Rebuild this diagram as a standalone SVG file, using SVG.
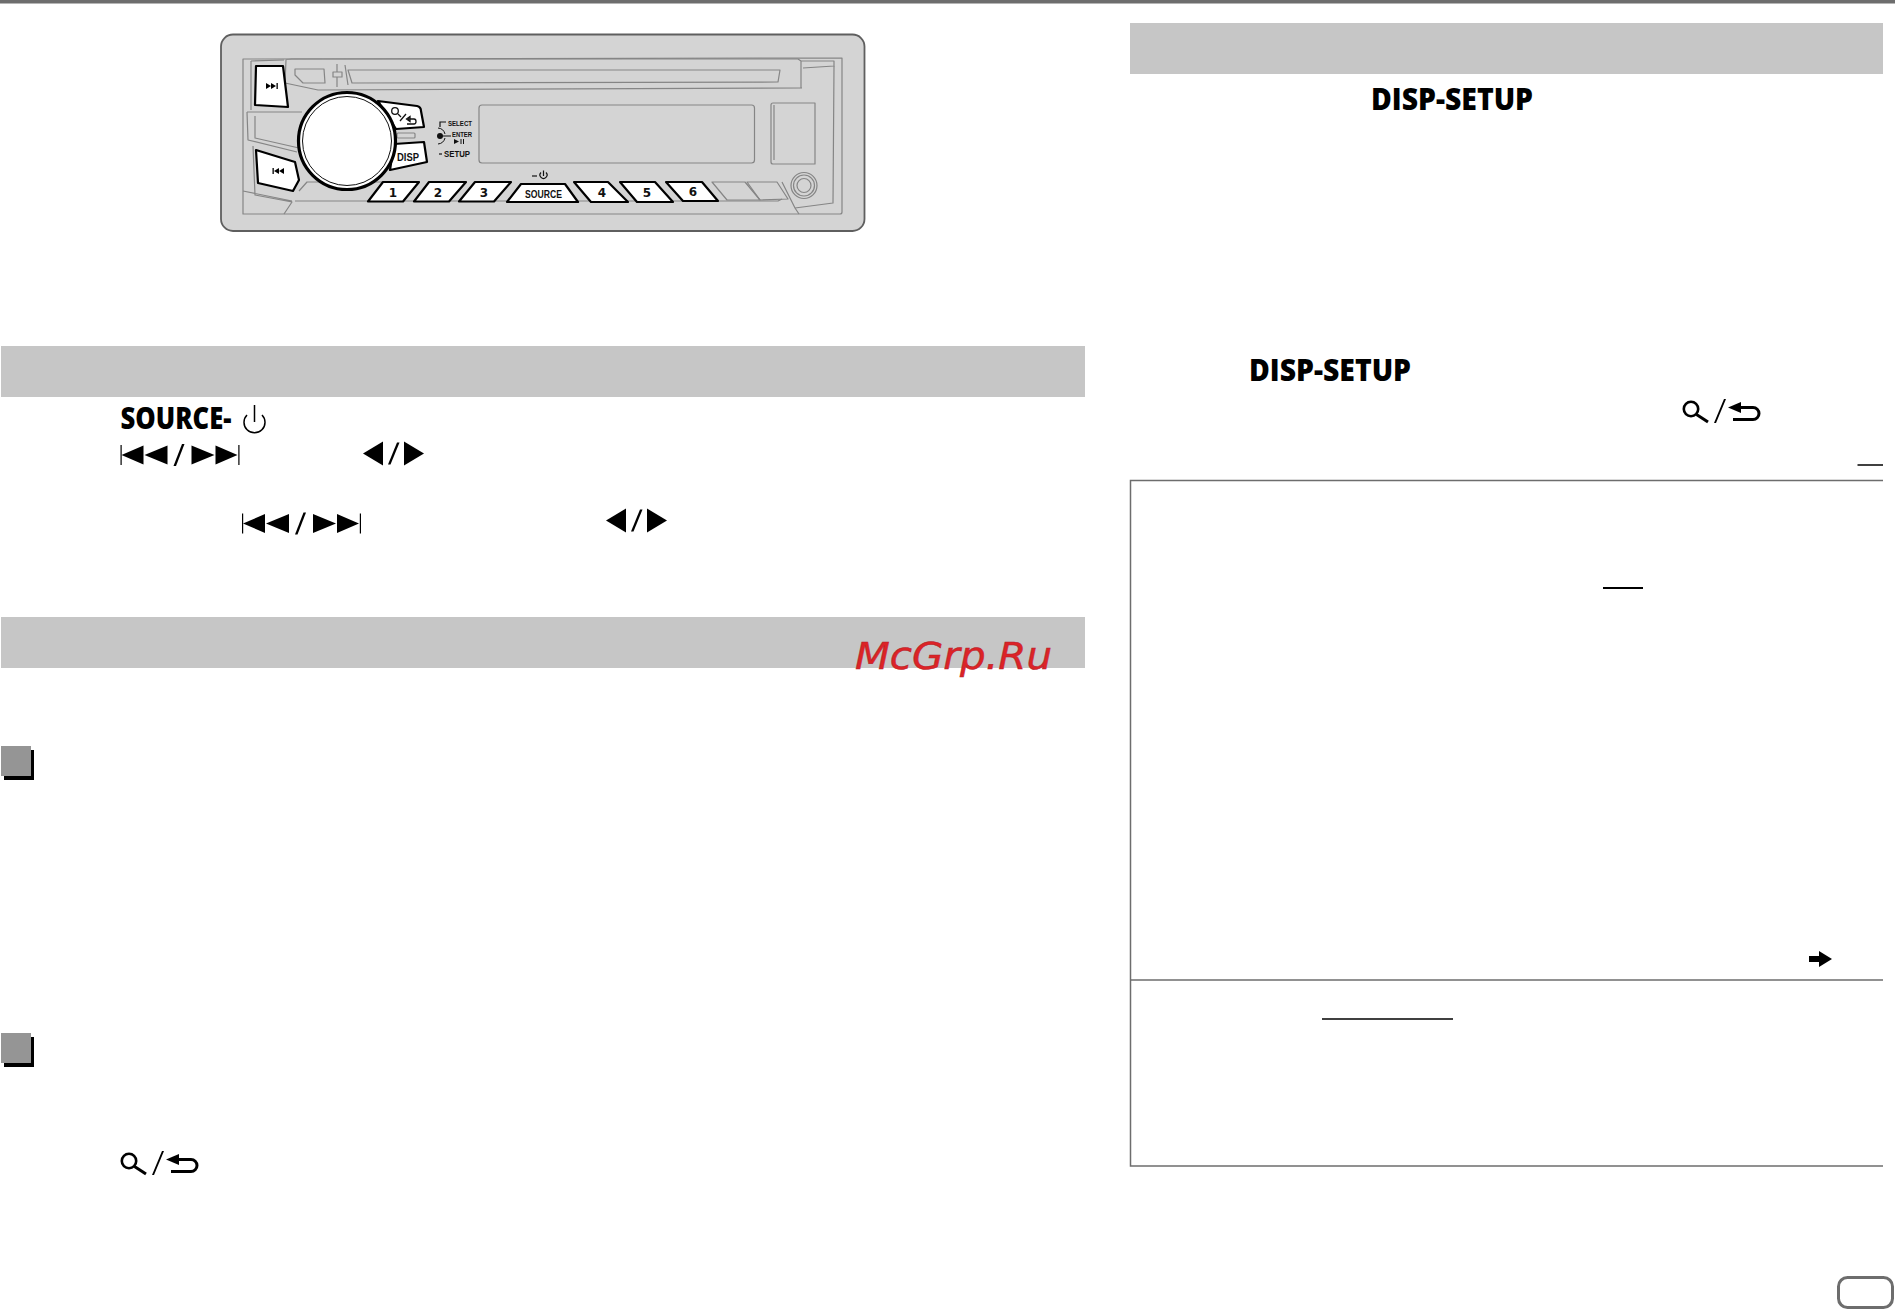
<svg xmlns="http://www.w3.org/2000/svg" xmlns:xlink="http://www.w3.org/1999/xlink" width="1895" height="1310" viewBox="0 0 1895 1310">
<style>
.bar{fill:#c6c6c6}
.rule{stroke:#6d6d6d;stroke-width:1.5;fill:none}
.ul{stroke:#000;fill:none}
.key{font-family:"Open Sans","Noto Sans",sans-serif;font-weight:800;font-size:30px;fill:#000}
.ln{fill:none;stroke:#858585;stroke-width:1.2;stroke-linejoin:round}
.btn{fill:#fff;stroke:#000;stroke-width:2.2;stroke-linejoin:round}
.lab{font-family:"Liberation Sans",Arial,sans-serif;font-weight:700;fill:#111}
.num{font-family:"DejaVu Sans",sans-serif;font-weight:700;font-size:12px;fill:#111;text-anchor:middle}
</style>
<defs>
<g id="skip">
<rect x="0" y="0" width="1.2" height="20"/>
<polygon points="1,10 23,0.500 23,19.500"/><polygon points="24,10 47,0.500 47,19.500"/>
<polygon points="61.500,-1 64,-1 55.500,21 53,21"/>
<polygon points="71,0.500 94,10 71,19.500"/><polygon points="95,0.500 117,10 95,19.500"/>
<rect x="117.800" y="0" width="1.200" height="20"/>
</g>
<g id="lr">
<polygon points="0,12 20,0 20,24"/><polygon points="34,1 36.500,1 27.500,23 25,23"/><polygon points="41,0 61,12 41,24"/>
</g>
<g id="searchback">
<circle cx="9" cy="10" r="7.200" fill="none" stroke="#000" stroke-width="2.600"/>
<path d="M14.500 15.500L26 23" fill="none" stroke="#000" stroke-width="3"/>
<polygon points="42,0 44,0 34,24 32,24"/>
<polygon points="46,8.500 59,3 59,14"/>
<path d="M58 8.500H71a6 6 0 0 1 0 12H51" fill="none" stroke="#000" stroke-width="3"/>
</g>
<g id="tri"><polygon points="0,0 5,3 0,6"/></g>
</defs>
<rect width="1895" height="1310" fill="#fff"/>
<rect id="top-strip" x="0" y="0" width="1895" height="3.500" fill="#6d6d6d"/>
<g id="device">
<rect x="221" y="34.500" width="643.500" height="196.500" rx="12" fill="#d4d4d4" stroke="#5f5f5f" stroke-width="1.800"/>
<path class="ln" d="M243 59L842 58V212Q842 214 840 214H243Z"/>
<path class="ln" d="M251 61L284 60M286 60L285 83L318 90L802 88M286 60Q286 59 292 59L798 59L801 61L834 61V66L803 68M801 61V88"/>
<path class="ln" d="M834 66L833 203L795 208L782 182M795 208L799 214"/>
<path class="ln" d="M251 61V110M247 112H302M247 112L248 140L297 152M255 116V138L299 148"/>
<path class="ln" d="M253 146L255 195L292 202L284 214M243 191L292 201"/>
<path class="ln" d="M299 191L307 182H383M295 201H778L782 199"/>
<path class="ln" d="M295 69H324L325 83H303L295 75ZM333 72H342V77H333ZM337 64V72M337 77V87M345 65L348 85"/>
<path class="ln" d="M348 70L780 70L778 82L352 83Z"/>
<rect class="ln" x="397" y="133" width="18" height="5" rx="1"/>
<rect class="ln" x="479" y="105" width="275.500" height="58" rx="3" stroke-width="1.500"/>
<path class="ln" d="M773 103H815V164H773Q771 164 771 162V105Q771 103 773 103ZM774 105V160"/>
<polygon class="ln" points="712,182 745,182 760,200 727,200"/>
<polygon class="ln" points="747,182 777,182 788,199 760,200"/>
<circle class="ln" cx="804" cy="185.500" r="13"/><circle class="ln" cx="804" cy="185.500" r="10.500"/><circle class="ln" cx="804" cy="185.500" r="7"/>
<g id="btn-next"><polygon class="btn" points="256,66 283,66 288,107 255,105"/><use href="#tri" x="266" y="83"/><use href="#tri" x="271" y="83"/><rect x="276.500" y="83" width="1.300" height="6" fill="#000"/></g>
<g id="btn-prev"><path class="btn" d="M256 150L295 162L299 180L293 191L258 183Z"/><use href="#tri" transform="translate(279 168) scale(-1 1)"/><use href="#tri" transform="translate(284 168) scale(-1 1)"/><rect x="272.500" y="168" width="1.300" height="6" fill="#000"/></g>
<g id="btn-search"><path class="btn" d="M378 101L417 106Q421 107 421 111L424 127L396 129Z"/><circle cx="395" cy="111" r="3.300" fill="none" stroke="#111" stroke-width="1.300"/><path d="M398 114L401 117M400 121L406 114" stroke="#111" stroke-width="1.300" fill="none"/><path d="M407 124H414Q416 124 416 121.500Q416 119 414 119H408M410 116.500L406.500 119L410 121.500Z" stroke="#111" stroke-width="1.300" fill="none"/></g>
<g id="btn-disp"><path class="btn" d="M394 144L424 142L427 162L390 170Z"/><text class="lab" x="397" y="161" font-size="10" textLength="22" lengthAdjust="spacingAndGlyphs" font-weight="400">DISP</text></g>
<g id="knob"><circle cx="347" cy="141" r="48.500" fill="#fff" stroke="#000" stroke-width="3.200"/><circle cx="347" cy="141" r="44.500" fill="#fff" stroke="#111" stroke-width="1"/></g>
<g id="key-1"><polygon class="btn" points="368,201.500 383,182 419,182 403,201.500"/><text class="num" x="393" y="196.500">1</text></g>
<g id="key-2"><polygon class="btn" points="414,201.500 429,182 466,182 449,201.500"/><text class="num" x="438" y="196.500">2</text></g>
<g id="key-3"><polygon class="btn" points="459,201.500 475,182 511,182 494,201.500"/><text class="num" x="484" y="196.500">3</text></g>
<g id="key-source"><polygon class="btn" points="507,202 521,184 565,184 578,202"/><text class="lab" x="525" y="198" font-size="10" textLength="37" lengthAdjust="spacingAndGlyphs">SOURCE</text></g>
<g id="key-4"><polygon class="btn" points="574,182 608,182 628,202 591,202"/><text class="num" x="602" y="196.500">4</text></g>
<g id="key-5"><polygon class="btn" points="620,182 655,182 673,202 637,202"/><text class="num" x="647" y="196.500">5</text></g>
<g id="key-6"><polygon class="btn" points="666,182 702,182 718,201 683,201"/><text class="num" x="693" y="195.500">6</text></g>
<g id="panel-labels">
<text class="lab" x="448" y="126" font-size="8" textLength="24" lengthAdjust="spacingAndGlyphs">SELECT</text>
<text class="lab" x="452" y="136.500" font-size="8" textLength="20" lengthAdjust="spacingAndGlyphs">ENTER</text>
<text class="lab" x="444" y="157" font-size="8.500" textLength="26" lengthAdjust="spacingAndGlyphs">SETUP</text>
<path d="M440 127V122H446" fill="none" stroke="#111" stroke-width="1.200"/>
<circle cx="440" cy="136" r="3" fill="#111"/>
<path d="M438 128A8 8 0 0 1 445 134M445 138A8 8 0 0 1 438 144M443 136H451" fill="none" stroke="#111" stroke-width="1"/>
<polygon points="454,139 459,141.500 454,144" fill="#111"/><path d="M461 139V144M463.500 139V144" stroke="#111" fill="none"/>
<path d="M439 154H442" stroke="#111" stroke-width="1.200"/>
<path d="M532 176H537" stroke="#111" stroke-width="1.200"/>
<path d="M541 172.500A3.500 3.500 0 1 0 546 172.500M543.500 170.500V176" fill="none" stroke="#111" stroke-width="1.200"/>
</g>
</g>
<rect id="bar-1" class="bar" x="1" y="346" width="1084" height="51"/>
<rect id="bar-2" class="bar" x="1" y="617" width="1084" height="51"/>
<rect id="bar-3" class="bar" x="1130" y="23" width="753" height="51"/>
<g id="source-line">
<text class="key" x="120.500" y="429" textLength="111" lengthAdjust="spacingAndGlyphs">SOURCE-</text>
<path d="M247 415A10.500 10.500 0 1 0 262 415M254.500 405V422" fill="none" stroke="#000" stroke-width="1.500"/>
</g>
<use href="#skip" x="120.500" y="445"/>
<use href="#lr" x="363" y="441.500"/>
<use href="#skip" x="242" y="513.500"/>
<use href="#lr" x="606" y="508.500"/>
<text class="key" x="1371" y="110" textLength="162" lengthAdjust="spacingAndGlyphs">DISP-SETUP</text>
<text class="key" x="1249" y="381" textLength="162" lengthAdjust="spacingAndGlyphs">DISP-SETUP</text>
<use href="#searchback" x="1682" y="399"/>
<use href="#searchback" x="120" y="1151"/>
<g id="square-1"><rect x="4" y="750" width="30" height="30" fill="#000"/><rect x="1" y="746" width="30" height="30" fill="#959595"/></g>
<g id="square-2"><rect x="4" y="1037" width="30" height="30" fill="#000"/><rect x="1" y="1033" width="30" height="30" fill="#959595"/></g>
<g id="note-box">
<path class="rule" d="M1883 480.500H1130.500V1166H1883M1130.500 980H1883"/>
</g>
<path class="ul" stroke-width="1.500" d="M1857.500 465H1883"/>
<path class="ul" stroke-width="2" d="M1603 588H1643"/>
<path class="ul" stroke-width="1.500" d="M1322 1019H1453"/>
<polygon id="arrow-right" points="1809,956 1819,956 1819,951 1832,959 1819,967 1819,962 1809,962" fill="#000"/>
<rect id="page-tab" x="1838.500" y="1277.500" width="54" height="30" rx="9" fill="#fff" stroke="#6d6d6d" stroke-width="3"/>
<text id="watermark" x="855" y="669" textLength="197" lengthAdjust="spacingAndGlyphs" font-family="DejaVu Sans, sans-serif" font-style="italic" font-size="38" fill="#dc2326" stroke="#b3202a" stroke-width="0.500">McGrp.Ru</text>
</svg>
